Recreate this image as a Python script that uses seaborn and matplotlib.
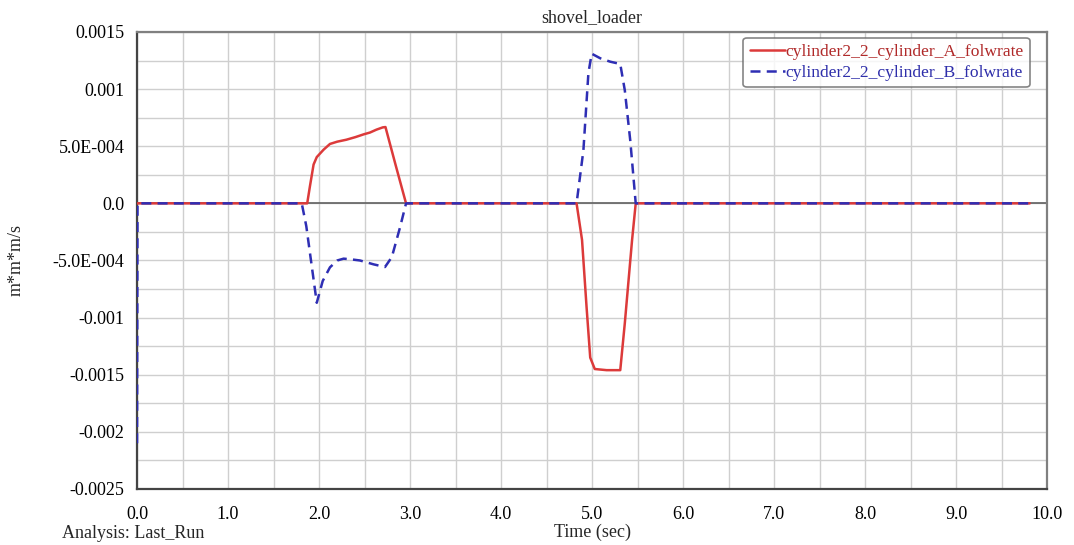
import matplotlib
matplotlib.use('Agg')
import matplotlib.pyplot as plt
import matplotlib.ticker as mticker
import pandas as pd
import seaborn as sns

# cylinder A flow rate (solid red)
time_a = [0.0, 1.87, 1.90, 1.94, 1.975, 2.05, 2.12, 2.20, 2.30, 2.40, 2.49, 2.56, 2.63, 2.70, 2.73,
          2.84, 2.956, 4.83, 4.89, 4.94, 4.98, 5.03, 5.16, 5.31, 5.36, 5.44, 5.48, 9.81]
flow_a = [0.0, 0.0, 0.00015, 0.00034, 0.000405, 0.00047, 0.00052, 0.00054, 0.000557, 0.00058, 0.000604,
          0.00062, 0.000645, 0.000665, 0.000668, 0.00034, 0.0, 0.0, -0.00032, -0.00091, -0.00135,
          -0.00145, -0.00146, -0.00146, -0.00105, -0.00032, 0.0, 0.0]

# cylinder B flow rate (dashed blue)
time_b = [0.0, 0.005, 1.81, 1.86, 1.92, 1.975, 2.04, 2.12, 2.20, 2.27, 2.35, 2.45, 2.60, 2.725, 2.80,
          2.89, 2.956, 4.83, 4.905, 4.96, 4.996, 5.09, 5.20, 5.31, 5.36, 5.42, 5.48, 9.81]
flow_b = [-0.0021, 0.0, 0.0, -0.0002, -0.00055, -0.00087, -0.00068, -0.00056, -0.0005, -0.000484,
          -0.00049, -0.0005, -0.000534, -0.000557, -0.00047, -0.00021, 0.0, 0.0, 0.000464, 0.00114,
          0.00131, 0.00127, 0.00124, 0.00122, 0.00099, 0.00055, 0.0, 0.0]

series_names = ['cylinder2_2_cylinder_A_folwrate', 'cylinder2_2_cylinder_B_folwrate']
line_colors = ['#dc3a3a', '#2e2eb4']
text_colors = ['#b02a2a', '#2e2eaa']

x_ticks = [0.0, 1.0, 2.0, 3.0, 4.0, 5.0, 6.0, 7.0, 8.0, 9.0, 10.0]
x_tick_labels = ['0.0', '1.0', '2.0', '3.0', '4.0', '5.0', '6.0', '7.0', '8.0', '9.0', '10.0']
y_ticks = [0.0015, 0.001, 0.0005, 0.0, -0.0005, -0.001, -0.0015, -0.002, -0.0025]
y_tick_labels = ['0.0015', '0.001', '5.0E-004', '0.0', '-5.0E-004', '-0.001', '-0.0015', '-0.002', '-0.0025']

FS = 13

sns.set_style('white')
plt.rcParams['font.family'] = ['Liberation Serif', 'DejaVu Serif']


def build_df():
    df_a = pd.DataFrame({'time': time_a, 'flow': flow_a, 'series': series_names[0]})
    df_b = pd.DataFrame({'time': time_b, 'flow': flow_b, 'series': series_names[1]})
    return pd.concat([df_a, df_b], ignore_index=True)


def main():
    df = build_df()

    fig = plt.figure(figsize=(10.74, 5.45), dpi=100)
    ax = fig.add_axes([0.1276, 0.1028, 0.8473, 0.8385])

    # グリッド
    ax.set_xlim(0, 10)
    ax.set_ylim(-0.0025, 0.0015)
    ax.xaxis.set_major_locator(mticker.FixedLocator(x_ticks))
    ax.xaxis.set_minor_locator(mticker.MultipleLocator(0.5))
    ax.yaxis.set_major_locator(mticker.FixedLocator(y_ticks))
    ax.yaxis.set_minor_locator(mticker.MultipleLocator(0.00025))
    ax.grid(which='both', color='#cfcfcf', linewidth=1.0)
    ax.set_axisbelow(True)
    ax.axhline(0, color='#606060', linewidth=1.2, zorder=1)

    sns.lineplot(data=df, x='time', y='flow', hue='series', style='series',
                 palette=line_colors, dashes=[(None, None), (4, 2.5)],
                 estimator=None, sort=False, linewidth=1.8, ax=ax, zorder=3)

    ax.set_xticklabels(x_tick_labels)
    ax.set_yticklabels(y_tick_labels)
    ax.tick_params(axis='both', which='both', labelsize=FS, colors='#333333',
                   labelcolor='black', length=4, width=1, direction='inout')
    ax.tick_params(axis='both', which='minor', length=3)
    ax.tick_params(axis='x', pad=10)
    ax.tick_params(axis='y', pad=7)

    for side in ['left', 'bottom']:
        ax.spines[side].set_color('#444444')
        ax.spines[side].set_linewidth(1.6)
    for side in ['top', 'right']:
        ax.spines[side].set_color('#808080')
        ax.spines[side].set_linewidth(1.6)

    ax.set_title('shovel_loader', fontsize=FS, pad=7)
    ax.set_xlabel('Time (sec)', fontsize=FS, labelpad=1)
    ax.set_ylabel('m*m*m/s', fontsize=FS, labelpad=20)
    fig.text(0.058, 0.012, 'Analysis: Last_Run', fontsize=FS)

    # 凡例
    leg = ax.legend(loc='upper right', bbox_to_anchor=(0.981, 0.987), borderaxespad=0,
                    fontsize=12.6, frameon=True, fancybox=True, edgecolor='#666666',
                    handlelength=2.0, handletextpad=0.05, borderpad=0.35, labelspacing=0.25)
    leg.get_frame().set_linewidth(1.2)
    for text, c in zip(leg.get_texts(), text_colors):
        text.set_color(c)

    fig.savefig('out.png', dpi=100)


if __name__ == '__main__':
    main()
